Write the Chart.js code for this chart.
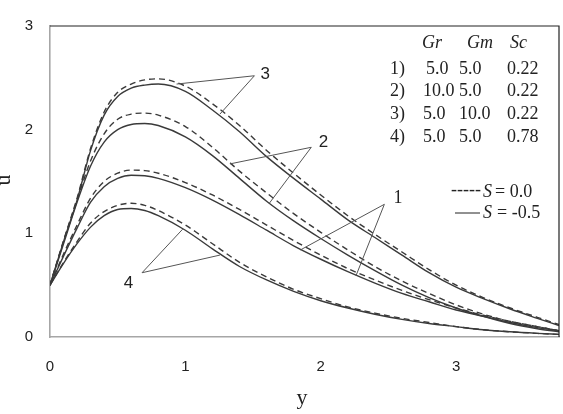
<!DOCTYPE html>
<html>
<head>
<meta charset="utf-8">
<script src="https://cdn.jsdelivr.net/npm/chart.js@4/dist/chart.umd.min.js"></script>
<style>
    body { margin: 0; background: #fff; }
    #chartBox { width: 563px; height: 414px; }
</style>
</head>
<body>
<div id="chartBox"><canvas id="velocityChart" width="563" height="414"></canvas></div>
<script>
// positions along y (abscissa)
const yPoints = [0, 0.1, 0.2, 0.3, 0.4, 0.5, 0.6, 0.7, 0.8, 1.0, 1.2, 1.4, 1.6, 1.8, 2.0, 2.2, 2.4, 2.6, 2.8, 3.0, 3.2, 3.4, 3.6, 3.76];

// velocity u, dashed = S 0.0, solid = S -0.5
const u1Dashed = [0.5, 0.8, 1.08, 1.34, 1.5, 1.58, 1.61, 1.605, 1.58, 1.49, 1.37, 1.23, 1.08, 0.93, 0.79, 0.66, 0.55, 0.45, 0.36, 0.28, 0.21, 0.15, 0.1, 0.06];
const u1Solid  = [0.5, 0.78, 1.05, 1.3, 1.45, 1.53, 1.56, 1.555, 1.53, 1.44, 1.32, 1.18, 1.03, 0.88, 0.75, 0.63, 0.52, 0.42, 0.34, 0.26, 0.2, 0.14, 0.09, 0.06];
const u2Dashed = [0.5, 0.92, 1.32, 1.7, 1.96, 2.1, 2.15, 2.16, 2.14, 2.03, 1.83, 1.6, 1.39, 1.19, 1.01, 0.84, 0.68, 0.54, 0.42, 0.31, 0.22, 0.15, 0.1, 0.06];
const u2Solid  = [0.5, 0.9, 1.3, 1.65, 1.88, 2.0, 2.05, 2.06, 2.04, 1.93, 1.75, 1.53, 1.31, 1.12, 0.95, 0.79, 0.64, 0.5, 0.38, 0.28, 0.2, 0.13, 0.08, 0.05];
const u3Dashed = [0.5, 0.93, 1.34, 1.82, 2.17, 2.36, 2.44, 2.48, 2.49, 2.42, 2.25, 2.04, 1.8, 1.58, 1.37, 1.17, 0.99, 0.82, 0.65, 0.5, 0.38, 0.28, 0.19, 0.12];
const u3Solid  = [0.5, 0.92, 1.32, 1.8, 2.14, 2.32, 2.4, 2.43, 2.44, 2.37, 2.19, 1.98, 1.74, 1.53, 1.33, 1.13, 0.96, 0.79, 0.62, 0.48, 0.37, 0.27, 0.18, 0.11];
const u4Dashed = [0.5, 0.72, 0.92, 1.1, 1.21, 1.27, 1.29, 1.27, 1.22, 1.08, 0.9, 0.72, 0.58, 0.46, 0.37, 0.29, 0.23, 0.18, 0.14, 0.1, 0.07, 0.05, 0.035, 0.025];
const u4Solid  = [0.5, 0.71, 0.9, 1.06, 1.17, 1.23, 1.24, 1.22, 1.17, 1.03, 0.85, 0.68, 0.55, 0.44, 0.35, 0.28, 0.22, 0.17, 0.13, 0.1, 0.07, 0.05, 0.035, 0.025];

const xTicks = [0, 1, 2, 3];
const yTicks = [0, 1, 2, 3];

// parameter table
const tableHead = ['Gr', 'Gm', 'Sc'];
const tableRows = [
    ['1)', '5.0', '5.0', '0.22'],
    ['2)', '10.0', '5.0', '0.22'],
    ['3)', '5.0', '10.0', '0.22'],
    ['4)', '5.0', '5.0', '0.78']
];
const sLabels = ['= 0.0', '= -0.5'];

// curve labels with leader lines (data coords)
const curveNotes = [
    { text: '3', at: [1.59, 2.53], from: [1.51, 2.52], to: [[0.935, 2.44], [1.255, 2.15]], serif: false },
    { text: '2', at: [2.02, 1.88], from: [1.93, 1.83], to: [[1.33, 1.67], [1.62, 1.29]], serif: false },
    { text: '1', at: [2.57, 1.34], from: [2.47, 1.28], to: [[1.85, 0.84], [2.26, 0.59]], serif: true },
    { text: '4', at: [0.58, 0.52], from: [0.68, 0.62], to: [[0.98, 1.04], [1.255, 0.79]], serif: false }
];

function pairUp(vals) {
    return vals.map((v, i) => ({ x: yPoints[i], y: v }));
}

function line(vals, dashed) {
    return {
        data: pairUp(vals),
        borderColor: '#3a3a3a',
        borderWidth: 1.4,
        borderDash: dashed ? [6, 4] : [],
        pointRadius: 0,
        fill: false,
        cubicInterpolationMode: 'monotone'
    };
}

const extras = {
    id: 'extras',
    afterDraw(chart) {
        const ctx = chart.ctx;
        const xs = chart.scales.x;
        const ys = chart.scales.y;
        const area = chart.chartArea;
        const px = v => xs.getPixelForValue(v);
        const py = v => ys.getPixelForValue(v);

        ctx.save();
        // top and right frame
        ctx.strokeStyle = '#222';
        ctx.lineWidth = 1.2;
        ctx.beginPath();
        ctx.moveTo(area.left, area.top);
        ctx.lineTo(area.right, area.top);
        ctx.lineTo(area.right, area.bottom);
        ctx.stroke();

        // leader lines + numbers
        ctx.strokeStyle = '#555';
        ctx.lineWidth = 1;
        ctx.fillStyle = '#222';
        ctx.textAlign = 'center';
        ctx.textBaseline = 'middle';
        curveNotes.forEach(n => {
            n.to.forEach(t => {
                ctx.beginPath();
                ctx.moveTo(px(n.from[0]), py(n.from[1]));
                ctx.lineTo(px(t[0]), py(t[1]));
                ctx.stroke();
            });
            ctx.font = n.serif ? '18px "Liberation Serif"' : '17px "Liberation Sans"';
            ctx.fillText(n.text, px(n.at[0]), py(n.at[1]));
        });

        // table
        ctx.textAlign = 'left';
        ctx.font = 'italic 18px "Liberation Serif"';
        const headX = [422, 467, 510];
        tableHead.forEach((h, i) => ctx.fillText(h, headX[i], 43));
        ctx.font = '18px "Liberation Serif"';
        const colX = [390, 423, 459, 507];
        tableRows.forEach((row, r) => {
            row.forEach((cell, c) => {
                let x = colX[c];
                if (r === 0 && c === 1) x = 426;
                ctx.fillText(cell, x, 69 + r * 22.6);
            });
        });

        // S legend
        ctx.font = '18px "Liberation Serif"';
        ctx.fillText('-----', 451, 190);
        ctx.beginPath();
        ctx.strokeStyle = '#222';
        ctx.moveTo(455, 213);
        ctx.lineTo(480, 213);
        ctx.stroke();
        ctx.font = 'italic 18px "Liberation Serif"';
        ctx.fillText('S', 483, 192);
        ctx.fillText('S', 483, 213);
        ctx.font = '18px "Liberation Serif"';
        ctx.fillText(sLabels[0], 495, 192);
        ctx.fillText(sLabels[1], 497, 213);

        // axis titles
        ctx.textAlign = 'center';
        ctx.font = '22px "Liberation Serif"';
        ctx.fillText('y', 302, 398);
        ctx.translate(4, 180);
        ctx.rotate(-Math.PI / 2);
        ctx.fillText('u', 0, 0);
        ctx.restore();
    }
};

const ctxVel = document.getElementById('velocityChart').getContext('2d');
const velocityChart = new Chart(ctxVel, {
    type: 'line',
    data: {
        datasets: [
            line(u3Dashed, true), line(u3Solid, false),
            line(u2Dashed, true), line(u2Solid, false),
            line(u1Dashed, true), line(u1Solid, false),
            line(u4Dashed, true), line(u4Solid, false)
        ]
    },
    options: {
        responsive: false,
        animation: false,
        layout: { padding: { top: 23, right: 4, left: 0, bottom: 0 } },
        plugins: { legend: { display: false }, tooltip: { enabled: false } },
        scales: {
            x: {
                type: 'linear',
                min: 0,
                max: 3.76,
                afterBuildTicks: s => { s.ticks = xTicks.map(v => ({ value: v })); },
                afterFit: s => { s.height = 77; },
                ticks: { color: '#222', font: { family: 'Liberation Sans', size: 15 }, padding: 21, maxRotation: 0 },
                grid: { drawOnChartArea: false, drawTicks: false },
                border: { color: '#a6a6a6', width: 1.6 }
            },
            y: {
                min: 0,
                max: 3,
                afterBuildTicks: s => { s.ticks = yTicks.map(v => ({ value: v })); },
                afterFit: s => { s.width = 50; },
                ticks: { color: '#222', font: { family: 'Liberation Sans', size: 15 }, padding: 17 },
                grid: { drawOnChartArea: false, drawTicks: false },
                border: { color: '#a6a6a6', width: 1.6 }
            }
        }
    },
    plugins: [extras]
});
</script>
</body>
</html>
